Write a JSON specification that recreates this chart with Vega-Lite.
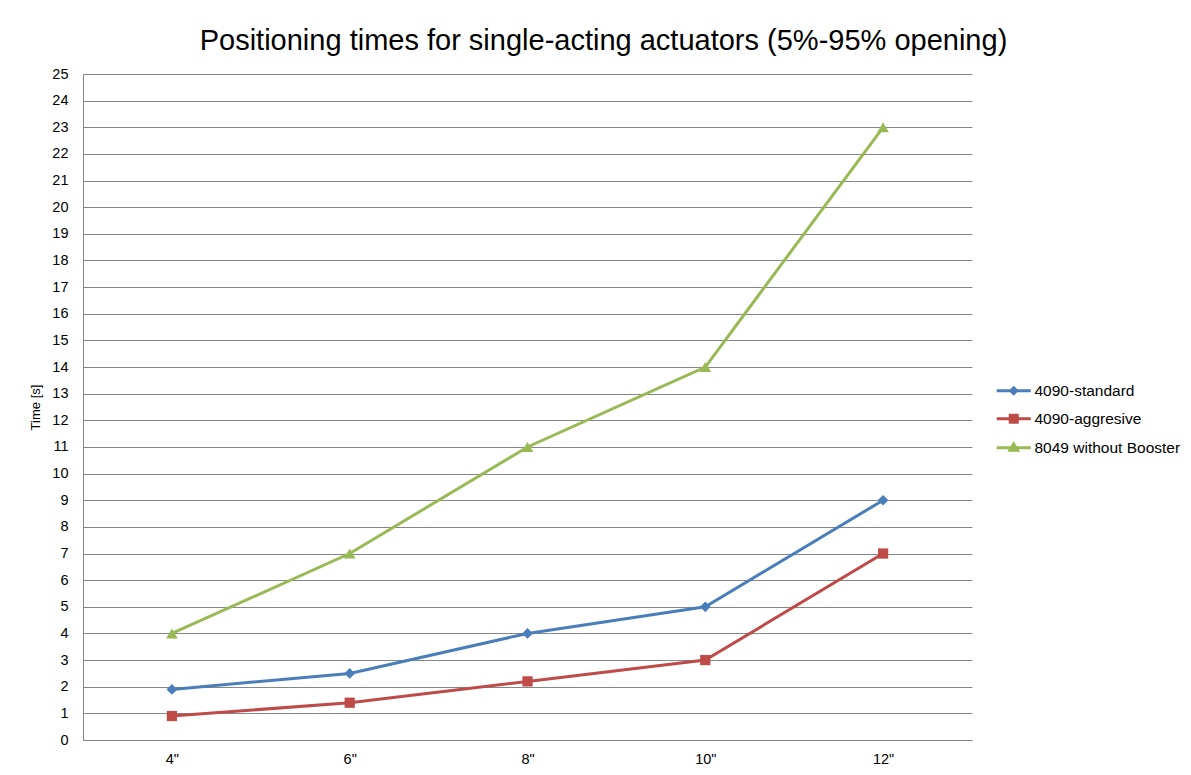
{
  "$schema": "https://vega.github.io/schema/vega-lite/v6.json",
  "width": 889,
  "height": 666,
  "autosize": {"type": "none"},
  "padding": {"left": 83, "top": 74, "right": 219, "bottom": 35},
  "background": "white",
  "title": {
    "text": "Positioning times for single-acting actuators (5%-95% opening)",
    "font": "Liberation Sans",
    "fontSize": 29,
    "fontWeight": "normal",
    "color": "#000000",
    "anchor": "middle",
    "frame": "group",
    "baseline": "alphabetic",
    "offset": -13,
    "dx": 76
  },
  "config": {
    "view": {"stroke": null},
    "font": "Liberation Sans",
    "axis": {
      "labelFont": "Liberation Sans",
      "labelFontSize": 14.5,
      "labelColor": "#000000",
      "titleFont": "Liberation Sans",
      "titleFontWeight": "normal",
      "titleColor": "#000000",
      "domainColor": "#868686",
      "gridColor": "#868686",
      "gridOpacity": 1,
      "tickSize": 0,
      "ticks": false
    },
    "legend": {
      "labelFont": "Liberation Sans",
      "labelFontSize": 15.5,
      "labelColor": "#000000"
    }
  },
  "data": {
    "values": [
      {"size": "4\"", "series": "4090-standard", "time": 1.9},
      {"size": "6\"", "series": "4090-standard", "time": 2.5},
      {"size": "8\"", "series": "4090-standard", "time": 4},
      {"size": "10\"", "series": "4090-standard", "time": 5},
      {"size": "12\"", "series": "4090-standard", "time": 9},
      {"size": "4\"", "series": "4090-aggresive", "time": 0.9},
      {"size": "6\"", "series": "4090-aggresive", "time": 1.4},
      {"size": "8\"", "series": "4090-aggresive", "time": 2.2},
      {"size": "10\"", "series": "4090-aggresive", "time": 3},
      {"size": "12\"", "series": "4090-aggresive", "time": 7},
      {"size": "4\"", "series": "8049 without Booster", "time": 4},
      {"size": "6\"", "series": "8049 without Booster", "time": 7},
      {"size": "8\"", "series": "8049 without Booster", "time": 11},
      {"size": "10\"", "series": "8049 without Booster", "time": 14},
      {"size": "12\"", "series": "8049 without Booster", "time": 23}
    ]
  },
  "encoding": {
    "x": {
      "field": "size",
      "type": "nominal",
      "sort": ["4\"", "6\"", "8\"", "10\"", "12\""],
      "scale": {"type": "point", "padding": 0.5},
      "axis": {"title": null, "labelAngle": 0, "labelPadding": 12, "grid": false}
    },
    "y": {
      "field": "time",
      "type": "quantitative",
      "scale": {"domain": [0, 25], "nice": false, "zero": true},
      "axis": {
        "title": "Time [s]",
        "titleFontSize": 13,
        "titlePadding": 9,
        "values": [0,1,2,3,4,5,6,7,8,9,10,11,12,13,14,15,16,17,18,19,20,21,22,23,24,25],
        "labelPadding": 15,
        "grid": true
      }
    }
  },
  "layer": [
    {
      "transform": [{"filter": "datum.time < 0"}],
      "mark": {"type": "point", "filled": false, "opacity": 1, "size": 100, "strokeWidth": 3},
      "encoding": {
        "color": {
          "field": "series",
          "type": "nominal",
          "scale": {"domain": ["4090-standard", "4090-aggresive", "8049 without Booster"], "range": ["#4A7EBB", "#BE4B48", "#98B954"]},
          "legend": {
            "title": null,
            "orient": "none",
            "legendX": 923,
            "legendY": 309,
            "padding": 0,
            "rowPadding": 9,
            "labelOffset": 13,
            "symbolSize": 100,
            "symbolStrokeWidth": 3,
            "symbolOpacity": 1
          }
        },
        "shape": {
          "field": "series",
          "type": "nominal",
          "scale": {
            "domain": ["4090-standard", "4090-aggresive", "8049 without Booster"],
            "range": [
              "M-3.4,0H3.4M0,-0.6L0.6,0L0,0.6L-0.6,0ZM0,-0.5V0.5",
              "M-3.4,0H3.4M-0.7,-0.7H0.7V0.7H-0.7ZM0,-0.7V0.7",
              "M-3.4,0H3.4M0,-0.75L0.75,0.5H-0.75ZM0,-0.6V0.45"
            ]
          },
          "legend": {
            "title": null,
            "orient": "none",
            "legendX": 923,
            "legendY": 309,
            "padding": 0,
            "rowPadding": 9,
            "labelOffset": 13,
            "symbolSize": 100,
            "symbolStrokeWidth": 3,
            "symbolOpacity": 1
          }
        }
      }
    },
    {
      "mark": {"type": "line", "strokeWidth": 3},
      "encoding": {"color": {"field": "series", "type": "nominal", "legend": null}}
    },
    {
      "transform": [{"filter": "datum.series == '4090-standard'"}],
      "mark": {"type": "point", "shape": "diamond", "filled": true, "opacity": 1, "size": 115},
      "encoding": {"color": {"field": "series", "type": "nominal", "legend": null}}
    },
    {
      "transform": [{"filter": "datum.series == '4090-aggresive'"}],
      "mark": {"type": "point", "shape": "square", "filled": true, "opacity": 1, "size": 105},
      "encoding": {"color": {"field": "series", "type": "nominal", "legend": null}}
    },
    {
      "transform": [{"filter": "datum.series == '8049 without Booster'"}],
      "mark": {"type": "point", "shape": "triangle-up", "filled": true, "opacity": 1, "size": 135},
      "encoding": {"color": {"field": "series", "type": "nominal", "legend": null}}
    }
  ]
}
